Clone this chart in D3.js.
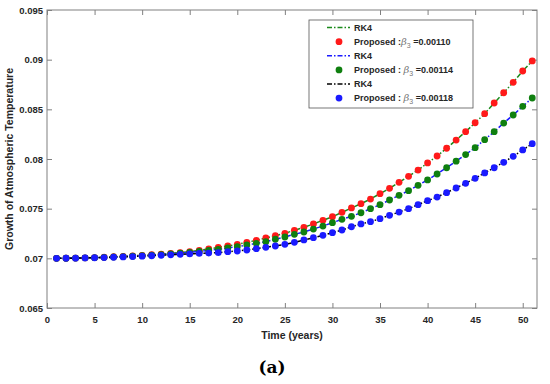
<!DOCTYPE html>
<html>
<head>
<meta charset="utf-8">
<script src="https://cdn.jsdelivr.net/npm/d3@7"></script>
<style>
  body { margin: 0; background: #fff; }
  svg { display: block; font-family: "Liberation Sans", Arial, Helvetica, sans-serif; }
</style>
</head>
<body>
<div id="chart"></div>
<script>
// time steps (years)
const years = d3.range(1, 52);

// beta3 = 0.00110
const seriesA = [0.07000, 0.07001, 0.07003, 0.07005, 0.07008, 0.07012, 0.07016, 0.07020, 0.07025, 0.07030,
  0.07036, 0.07043, 0.07050, 0.07058, 0.07067, 0.07080, 0.07094, 0.07111, 0.07124, 0.07141,
  0.07161, 0.07181, 0.07205, 0.07228, 0.07252, 0.07282, 0.07312, 0.07346, 0.07383, 0.07419,
  0.07463, 0.07507, 0.07550, 0.07597, 0.07651, 0.07705, 0.07765, 0.07826, 0.07889, 0.07960,
  0.08030, 0.08108, 0.08191, 0.08275, 0.08365, 0.08456, 0.08564, 0.08667, 0.08772, 0.08886, 0.08987];

// beta3 = 0.00114
const seriesB = [0.07000, 0.07001, 0.07003, 0.07005, 0.07007, 0.07010, 0.07014, 0.07018, 0.07022, 0.07027,
  0.07032, 0.07038, 0.07045, 0.07052, 0.07060, 0.07069, 0.07080, 0.07091, 0.07104, 0.07117,
  0.07134, 0.07151, 0.07167, 0.07192, 0.07215, 0.07242, 0.07265, 0.07295, 0.07325, 0.07359,
  0.07393, 0.07423, 0.07459, 0.07500, 0.07540, 0.07587, 0.07634, 0.07681, 0.07735, 0.07789,
  0.07849, 0.07912, 0.07978, 0.08045, 0.08114, 0.08195, 0.08275, 0.08362, 0.08443, 0.08530, 0.08614];

// beta3 = 0.00118
const seriesC = [0.07000, 0.07001, 0.07002, 0.07004, 0.07006, 0.07008, 0.07011, 0.07014, 0.07018, 0.07022,
  0.07026, 0.07030, 0.07035, 0.07040, 0.07045, 0.07050, 0.07053, 0.07057, 0.07067, 0.07074,
  0.07084, 0.07097, 0.07111, 0.07124, 0.07141, 0.07161, 0.07185, 0.07208, 0.07232, 0.07258,
  0.07285, 0.07318, 0.07346, 0.07369, 0.07399, 0.07433, 0.07466, 0.07500, 0.07540, 0.07580,
  0.07617, 0.07661, 0.07708, 0.07755, 0.07805, 0.07860, 0.07912, 0.07967, 0.08027, 0.08091, 0.08154];

const betaLabels = ["=0.00110", "=0.00114", "=0.00118"];
const xTicks = d3.range(0, 51, 5);
const yTicks = [0.065, 0.07, 0.075, 0.08, 0.085, 0.09, 0.095];

const width = 550, height = 384;
const margin = { left: 47, right: 13, top: 10, bottom: 76 };

const svg = d3.select('#chart').append('svg')
  .attr('width', width)
  .attr('height', height);

const x = d3.scaleLinear().domain([0, 51.5]).range([margin.left, width - margin.right]);
const y = d3.scaleLinear().domain([0.065, 0.095]).range([height - margin.bottom, margin.top]);

const axisColor = '#808080';
const textColor = '#262626';
const sans = '"Liberation Sans", Arial, sans-serif';

// plot box
svg.append('rect')
  .attr('x', x(0)).attr('y', y(0.095))
  .attr('width', x(51.5) - x(0)).attr('height', y(0.065) - y(0.095))
  .attr('fill', 'none').attr('stroke', axisColor).attr('stroke-width', 1);

// axes (ticks inside, mirrored on top/right)
const styleAxis = g => {
  g.select('.domain').remove();
  g.selectAll('.tick line').attr('stroke', axisColor);
  g.selectAll('.tick text').attr('fill', textColor)
    .attr('font-family', sans)
    .attr('font-size', 9.5).attr('font-weight', 'bold');
};

svg.append('g')
  .attr('transform', `translate(0,${y(0.065)})`)
  .call(d3.axisBottom(x).tickValues(xTicks).tickSizeInner(-5).tickSizeOuter(0).tickPadding(8))
  .call(styleAxis);

svg.append('g')
  .attr('transform', `translate(0,${y(0.095)})`)
  .call(d3.axisTop(x).tickValues(xTicks).tickSizeInner(-5).tickSizeOuter(0).tickFormat(''))
  .call(styleAxis);

svg.append('g')
  .attr('transform', `translate(${x(0)},0)`)
  .call(d3.axisLeft(y).tickValues(yTicks).tickSizeInner(-5).tickSizeOuter(0).tickPadding(4).tickFormat(d3.format('')))
  .call(styleAxis);

svg.append('g')
  .attr('transform', `translate(${x(51.5)},0)`)
  .call(d3.axisRight(y).tickValues(yTicks).tickSizeInner(-5).tickSizeOuter(0).tickFormat(''))
  .call(styleAxis);

// axis labels
svg.append('text')
  .attr('x', x(25.75)).attr('y', 339)
  .attr('text-anchor', 'middle')
  .attr('font-family', sans)
  .attr('font-size', 10.5).attr('font-weight', 'bold').attr('fill', textColor)
  .text('Time (years)');

svg.append('text')
  .attr('transform', `translate(13,${y(0.08)}) rotate(-90)`)
  .attr('text-anchor', 'middle')
  .attr('font-family', sans)
  .attr('font-size', 10.5).attr('font-weight', 'bold').attr('fill', textColor)
  .text('Growth of Atmospheric Temperature');

// panel label, centred on the figure rather than the axes
svg.append('text')
  .attr('x', 272).attr('y', 373)
  .attr('text-anchor', 'middle')
  .attr('font-family', '"DejaVu Serif", "Liberation Serif", serif')
  .attr('font-size', 17).attr('font-weight', 'bold').attr('fill', '#000')
  .text('(a)');

// series: RK4 line colour + marker colour
const series = [
  { values: seriesA, line: '#1a8a1a', dot: '#ff1a1a' },
  { values: seriesB, line: '#1a1aff', dot: '#0f7f0f' },
  { values: seriesC, line: '#000000', dot: '#1a1aff' }
];

const line = d3.line().x((d, i) => x(years[i])).y(d => y(d));
const dash = '5,2,1.5,2';

series.forEach(s => {
  svg.append('path')
    .attr('d', line(s.values))
    .attr('fill', 'none')
    .attr('stroke', s.line)
    .attr('stroke-width', 1.5)
    .attr('stroke-dasharray', dash);
});

series.forEach(s => {
  svg.append('g').selectAll('circle')
    .data(s.values)
    .join('circle')
    .attr('cx', (d, i) => x(years[i]))
    .attr('cy', d => y(d))
    .attr('r', 3.4)
    .attr('fill', s.dot);
});

// legend
const legend = svg.append('g');
legend.append('rect')
  .attr('x', 309).attr('y', 20).attr('width', 164).attr('height', 88)
  .attr('fill', '#fff').attr('stroke', '#555').attr('stroke-width', 0.8);

series.forEach((s, i) => {
  const y0 = 27.5 + i * 28.2;
  legend.append('line')
    .attr('x1', 327).attr('x2', 350).attr('y1', y0).attr('y2', y0)
    .attr('stroke', s.line).attr('stroke-width', 1.5).attr('stroke-dasharray', dash);
  legend.append('text')
    .attr('x', 354).attr('y', y0 + 3.3)
    .attr('font-family', sans)
    .attr('font-size', 9).attr('font-weight', 'bold').attr('fill', textColor)
    .text('RK4');

  const y1 = y0 + 14.2;
  legend.append('circle')
    .attr('cx', 339).attr('cy', y1).attr('r', 3.4).attr('fill', s.dot);
  const t = legend.append('text')
    .attr('x', 354).attr('y', y1 + 3.3)
    .attr('font-family', sans)
    .attr('font-size', 9).attr('font-weight', 'bold').attr('fill', textColor);
  t.append('tspan').text(i === 0 ? 'Proposed :' : 'Proposed : ');
  t.append('tspan').attr('font-style', 'italic').attr('font-weight', 'normal')
    .attr('fill', '#777').attr('font-family', '"DejaVu Serif", serif').attr('font-size', 10).text('\u03B2');
  t.append('tspan').attr('dy', 3).attr('font-size', 7).attr('font-weight', 'normal').attr('fill', '#777').text('3');
  t.append('tspan').attr('dy', -3).text(' ' + betaLabels[i]);
});
</script>
</body>
</html>
